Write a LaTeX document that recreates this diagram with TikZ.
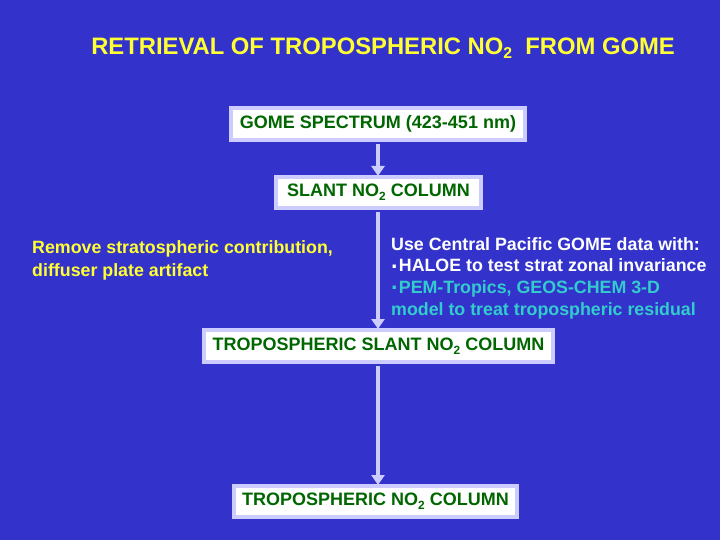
\documentclass[tikz,border=0pt]{standalone}
\usepackage{fontspec}
\setmainfont{Liberation Sans}
\usetikzlibrary{arrows.meta}
\definecolor{bg}{HTML}{3333CC}
\definecolor{lav}{HTML}{CCCCFF}
\definecolor{dgreen}{HTML}{006600}
\definecolor{ttl}{HTML}{FFFF33}
\definecolor{cyn}{HTML}{33CCCC}
\tikzset{
  box/.style={draw=lav, line width=4pt, fill=white, inner sep=0pt, text=dgreen,
    font=\bfseries\fontsize{18}{21}\selectfont},
  conn/.style={draw=lav, line width=4pt, -{Triangle[width=13pt,length=10pt]}, shorten >=-1pt},
  note/.style={inner sep=0pt, anchor=base west, font=\bfseries\fontsize{17.8}{21}\selectfont}
}
\newcommand{\subtwo}{\raisebox{-4pt}{\fontsize{0.66em}{1em}\selectfont 2}}
\newcommand{\mdot}{{\fontsize{1.3em}{1em}\selectfont\raisebox{-2.5pt}{·}}}
\begin{document}
\begin{tikzpicture}[x=1pt,y=-1pt]
\fill[bg] (0,0) rectangle (720,540);
\useasboundingbox (0,0) rectangle (720,540);
\node[font=\bfseries\fontsize{23.8}{28}\selectfont, text=ttl, inner sep=0pt, anchor=base] (title) at (383,55) {RETRIEVAL OF TROPOSPHERIC NO\subtwo\ \ FROM GOME};
\node[box, minimum width=294pt, minimum height=32pt] (b1) at (378,124) {GOME SPECTRUM (423-451 nm)};
\node[box, minimum width=205pt, minimum height=31pt] (b2) at (378.5,192.5) {SLANT NO\subtwo\ COLUMN};
\node[box, minimum width=349pt, minimum height=32pt] (b3) at (378.5,346) {TROPOSPHERIC SLANT NO\subtwo\ COLUMN};
\node[box, minimum width=283pt, minimum height=31pt] (b4) at (375.5,501.5) {TROPOSPHERIC NO\subtwo\ COLUMN};
\node[note, text=ttl] (left1) at (32,253) {Remove stratospheric contribution,};
\node[note, text=ttl] (left2) at (32,276) {diffuser plate artifact};
\node[note, text=white] (right1) at (391,250) {Use Central Pacific GOME data with:};
\node[note, text=white] (right2) at (391,271.7) {\mdot HALOE to test strat zonal invariance};
\node[note, text=cyn] (right3) at (391,293.4) {\mdot PEM-Tropics, GEOS-CHEM 3-D};
\node[note, text=cyn] (right4) at (391,315) {model to treat tropospheric residual};
\draw[conn] (b1.south -| 378,0) ++(0,2) -- (b2.north -| 378,0);
\draw[conn] (b2.south -| 378,0) ++(0,2) -- (b3.north -| 378,0);
\draw[conn] (b3.south -| 378,0) ++(0,2) -- (b4.north -| 378,0);
\end{tikzpicture}
\end{document}
